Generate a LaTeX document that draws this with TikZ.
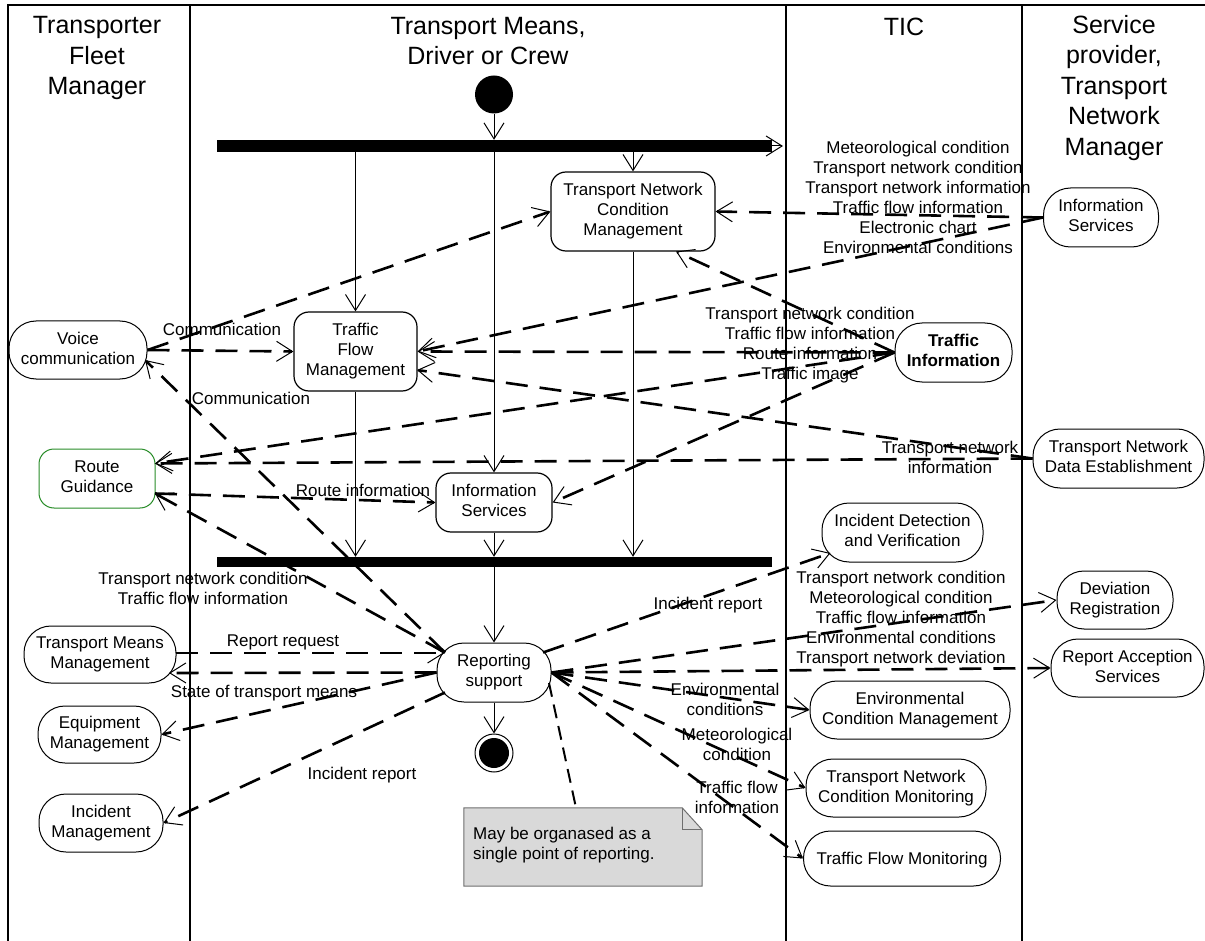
\documentclass[tikz,border=0pt]{standalone}
\usepackage{fontspec}
\setmainfont{Liberation Sans}
\usetikzlibrary{arrows.meta,calc}

% struts that fix the line box of small and heading text
\newcommand\lnstrut{\rule[-4pt]{0pt}{20pt}}
\newcommand\hdstrut{\rule[-7pt]{0pt}{30.5pt}}

\definecolor{rgcol}{RGB}{40,140,40}
\definecolor{notefill}{RGB}{217,217,217}
\definecolor{noteline}{RGB}{110,110,110}

\tikzset{
  txt/.style={font=\fontsize{17}{20}\selectfont, align=center,
    execute at begin node=\lnstrut, execute at end node=\lnstrut},
  hdr/.style={font=\fontsize{25}{30.5}\selectfont, align=center, inner sep=0pt,
    execute at begin node=\hdstrut, execute at end node=\hdstrut},
  act/.style={txt, draw, line width=1.2pt, rectangle, rounded corners=15pt, inner sep=1pt},
  stad/.style={txt, draw, line width=1pt, rectangle, rounded corners=27pt, inner sep=1pt},
  lab/.style={txt, inner sep=0pt},
  bar/.style={fill=black, draw=none, inner sep=0pt},
  tip/.style={-{Straight Barb[length=16pt,width=20pt,line width=1pt]}},
  flow/.style={line width=1pt, tip},
  msg/.style={line width=2.6pt, dash pattern=on 22pt off 12pt, tip},
  notelink/.style={line width=2pt, dash pattern=on 14pt off 8pt},
  lane/.style={line width=2.6pt},
}

\begin{document}
\begin{tikzpicture}[x=1pt,y=-1pt]
\useasboundingbox (0,0) rectangle (1205,941);

% swimlanes
\draw[lane] (8,941) -- (8,5) -- (1205,5);
\draw[lane] (190,5) -- (190,941);
\draw[lane] (786,5) -- (786,941);
\draw[lane] (1022,5) -- (1022,941);

\node[hdr] (h1) at (97,59.25) {Transporter\\Fleet\\Manager};
\node[hdr] (h2) at (488,44.5) {Transport Means,\\Driver or Crew};
\node[hdr] (h3) at (904,27.5) {TIC};
\node[hdr] (h4) at (1114,88.5) {Service\\provider,\\Transport\\Network\\Manager};

% control flow of the vehicle lane
\node[circle, fill=black, minimum size=38pt, inner sep=0pt] (init) at (494,94.5) {};
\node[bar, minimum width=555pt, minimum height=12pt] (fork) at (494.5,146) {};
\coordinate (forkend) at (783,146);
\node[bar, minimum width=555pt, minimum height=10pt] (join) at (494.5,562) {};

\node[act, minimum width=164pt, minimum height=79pt] (TNCM) at (633,211.5) {Transport Network\\Condition\\Management};
\node[act, minimum width=123pt, minimum height=79pt] (TFM) at (355.5,351.5) {Traffic\\Flow\\Management};
\node[act, minimum width=116pt, minimum height=59pt] (ISv) at (494,502.5) {Information\\Services};
\node[stad, minimum width=114pt, minimum height=59pt] (RS) at (494,672.5) {Reporting\\support};
\node[circle, draw, line width=1pt, minimum size=38pt, inner sep=0pt] (final) at (494,753) {};
\node[circle, fill=black, minimum size=30pt, inner sep=0pt] (finaldot) at (final) {};

% fleet manager lane
\node[stad, minimum width=138pt, minimum height=58pt] (VC) at (78,350) {Voice\\communication};
\node[act, draw=rgcol, line width=1pt, minimum width=116pt, minimum height=59pt] (RG) at (97,478.5) {Route\\Guidance};
\node[stad, minimum width=152pt, minimum height=57pt] (TMM) at (100,654.5) {Transport Means\\Management};
\node[stad, minimum width=123pt, minimum height=57pt] (EM) at (99.5,734.5) {Equipment\\Management};
\node[stad, minimum width=124pt, minimum height=58pt] (IM) at (101,823) {Incident\\Management};

% TIC lane
\node[stad, minimum width=117pt, minimum height=59pt, font=\fontsize{17}{20}\selectfont\bfseries] (TI) at (953.5,352.5) {Traffic\\Information};
\node[stad, minimum width=161pt, minimum height=59pt] (IDV) at (902.5,532.5) {Incident Detection\\and Verification};
\node[stad, minimum width=200pt, minimum height=58pt] (ECM) at (910,710) {Environmental\\Condition Management};
\node[stad, minimum width=180pt, minimum height=58pt] (TNCMon) at (896,788) {Transport Network\\Condition Monitoring};
\node[stad, minimum width=197pt, minimum height=55pt] (TFMon) at (902,858.5) {Traffic Flow Monitoring};

% service provider lane
\node[stad, minimum width=115pt, minimum height=59pt] (ISp) at (1101,217.5) {Information\\Services};
\node[stad, minimum width=171pt, minimum height=59pt] (TNDE) at (1118.5,458.5) {Transport Network\\Data Establishment};
\node[stad, minimum width=116pt, minimum height=58pt] (DR) at (1115,600) {Deviation\\Registration};
\node[stad, minimum width=153pt, minimum height=58pt] (RAS) at (1127.5,668) {Report Acception\\Services};

% note
\node[minimum width=238pt, minimum height=78pt, inner sep=0pt] (note) at (583,847) {};
\draw[fill=notefill, draw=noteline, line width=1pt]
  (note.north west) -- ($(note.north east)+(-20,0)$) -- ($(note.north east)+(0,22)$)
  -- (note.south east) -- (note.south west) -- cycle;
\draw[draw=noteline, line width=1pt]
  ($(note.north east)+(-20,0)$) -- ($(note.north east)+(-20,22)$) -- ($(note.north east)+(0,22)$);
\node[lab, anchor=west, align=left] (notetext) at (473,845) {May be organased as a\\single point of reporting.};

% control flow
\draw[flow] (init) -- (init |- fork.north);
\draw[flow] (fork.east) -- (forkend);
\draw[flow] (TFM.north |- fork.south) -- (TFM.north);
\draw[flow] (ISv.north |- fork.south) -- (ISv.north);
\draw[flow] (TNCM.north |- fork.south) -- (TNCM.north);
\draw[flow] (TFM.south) -- (TFM.south |- join.north);
\draw[flow] (ISv.south) -- (ISv.south |- join.north);
\draw[flow] (TNCM.south) -- (TNCM.south |- join.north);
\draw[flow] (RS.north |- join.south) -- (RS.north);
\draw[flow] (RS.south) -- (final.north);

% information flows
\draw[msg] (VC.east) -- (TNCM.west);
\draw[msg] (VC.east) -- (TFM.west);
\draw[msg] ($(RS)+(-49,-20)$) -- ($(VC)+(67,10)$);
\draw[msg] (TI.west) -- ($(TNCM)+(43,40)$);
\draw[msg] (TI.west) -- (TFM.east);
\draw[msg] (ISp.west) -- (TFM.east);
\draw[msg] (ISp.west) -- (TNCM.east);
\draw[msg] (TNDE.west) -- ($(TFM)+(61.5,18.5)$);
\draw[msg] (TNDE.west) -- ($(RG)+(58,-15)$);
\draw[msg] (TI.west) -- ($(RG)+(58,-15)$);
\draw[msg] (TI.west) -- (ISv.east);
\draw[msg] ($(RG)+(58,15)$) -- (ISv.west);
\draw[msg] ($(RS)+(-49,-20)$) -- ($(RG)+(58,15)$);
\draw[msg] ($(TMM)+(76,-1.5)$) -- ($(RS)+(-49.5,-19.5)$);
\draw[msg] (RS.west) -- ($(TMM)+(69,18.5)$);
\draw[msg] (RS.west) -- (EM.east);
\draw[msg] ($(RS)+(-49,20)$) -- (IM.east);
\draw[msg] ($(RS)+(49,-20)$) -- ($(IDV)+(-72,20.5)$);
\draw[msg] (RS.east) -- (DR.west);
\draw[msg] (RS.east) -- (RAS.west);
\draw[msg] (RS.east) -- (ECM.west);
\draw[msg] (RS.east) -- (TNCMon.west);
\draw[msg] (RS.east) -- (TFMon.west);
\draw[notelink] ($(RS)+(55,10.5)$) -- ($(note.north)+(-7,0)$);

% flow labels
\node[lab] (l1) at (918,199) {Meteorological condition\\Transport network condition\\Transport network information\\Traffic flow information\\Electronic chart\\Environmental conditions};
\node[lab] (l2) at (810,345.7) {Transport network condition\\Traffic flow information\\Route information\\Traffic image};
\node[lab] (l3) at (222,329) {Communication};
\node[lab] (l4) at (251,398) {Communication};
\node[lab] (l5) at (950,459) {Transport network\\information};
\node[lab] (l6) at (363,490.7) {Route information};
\node[lab] (l7) at (203,590) {Transport network condition\\Traffic flow information};
\node[lab] (l8) at (283,640.7) {Report request};
\node[lab] (l9) at (264,691.7) {State of transport means};
\node[lab] (l10) at (362,773) {Incident report};
\node[lab] (l11) at (708,603) {Incident report};
\node[lab] (l12) at (901,619) {Transport network condition\\Meteorological condition\\Traffic flow information\\Environmental conditions\\Transport network deviation};
\node[lab] (l13) at (725,701) {Environmental\\conditions};
\node[lab] (l14) at (737,746.7) {Meteorological\\condition};
\node[lab] (l15) at (737,799) {Traffic flow\\information};
\end{tikzpicture}
\end{document}
